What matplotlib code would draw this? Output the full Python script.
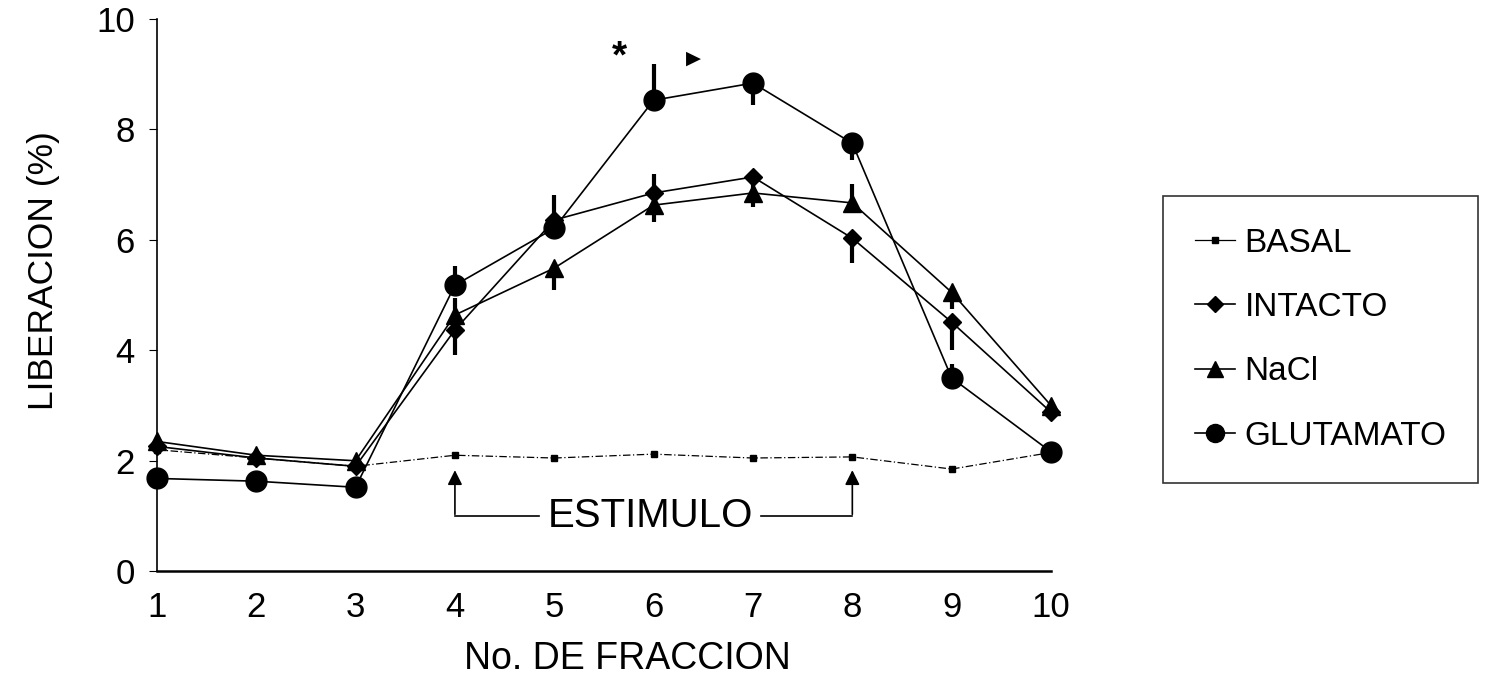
import numpy as np
import matplotlib
matplotlib.use("Agg")
import matplotlib.pyplot as plt
from matplotlib.lines import Line2D

plt.rcParams['font.family'] = ['Liberation Sans', 'DejaVu Sans']

# fracciones
fraccion = [1, 2, 3, 4, 5, 6, 7, 8, 9, 10]

# liberacion (%) por grupo
basal = [2.2, 2.05, 1.9, 2.1, 2.05, 2.12, 2.05, 2.07, 1.85, 2.15]
intacto = [2.26, 2.05, 1.9, 4.37, 6.36, 6.85, 7.14, 6.03, 4.51, 2.88]
nacl = [2.35, 2.1, 2.0, 4.64, 5.49, 6.63, 6.85, 6.67, 5.05, 3.0]
glutamato = [1.68, 1.63, 1.52, 5.18, 6.21, 8.53, 8.84, 7.75, 3.5, 2.16]

# error (abajo, arriba)
intacto_err_lo = [0, 0, 0, 0.45, 0, 0, 0.3, 0.45, 0.5, 0]
intacto_err_hi = [0, 0, 0, 0, 0, 0.35, 0, 0, 0, 0]
nacl_err_lo = [0, 0, 0, 0, 0.4, 0.3, 0.25, 0, 0.3, 0]
nacl_err_hi = [0, 0, 0, 0.3, 0, 0, 0, 0.35, 0, 0]
glut_err_lo = [0, 0, 0, 0, 0, 0, 0.4, 0.3, 0, 0]
glut_err_hi = [0, 0, 0, 0.35, 0.6, 0.65, 0, 0, 0.25, 0]

estimulo_inicio = 4
estimulo_fin = 8

fig = plt.figure(figsize=(14.94, 6.8), dpi=100)
ax = fig.add_axes([0.105, 0.16, 0.5985, 0.812])

lw = 1.2
ax.plot(fraccion, basal, color='black', lw=0.9, ls=(0, (6, 2, 1, 2)), marker='s',
        ms=4, clip_on=False, zorder=3)
ax.errorbar(fraccion, intacto, yerr=[intacto_err_lo, intacto_err_hi], color='black',
            lw=lw, marker='D', ms=9, elinewidth=3, capsize=0, clip_on=False, zorder=4)
ax.errorbar(fraccion, nacl, yerr=[nacl_err_lo, nacl_err_hi], color='black',
            lw=lw, marker='^', ms=13, elinewidth=3, capsize=0, clip_on=False, zorder=4)
ax.errorbar(fraccion, glutamato, yerr=[glut_err_lo, glut_err_hi], color='black',
            lw=lw, marker='o', ms=15, elinewidth=3, capsize=0, clip_on=False, zorder=4)

# ESTIMULO
for xs in (estimulo_inicio, estimulo_fin):
    ax.annotate('', xy=(xs, 1.88), xytext=(xs, 0.98),
                arrowprops=dict(arrowstyle='-|>', color='black', lw=1.2,
                                mutation_scale=22))
ax.plot([estimulo_inicio, 4.85], [1.0, 1.0], color='black', lw=1.2)
ax.plot([7.08, estimulo_fin], [1.0, 1.0], color='black', lw=1.2)
ax.text(5.97, 1.0, 'ESTIMULO', ha='center', va='center', fontsize=29)

ax.text(5.66, 9.3, '*', ha='center', va='center', fontsize=28, fontweight='bold')
ax.text(6.4, 9.3, '\u25B6', ha='center', va='center', fontsize=14,
        family=['DejaVu Sans'])

ax.set_xlim(1, 10)
ax.set_ylim(0, 10)
ax.set_xticks(fraccion)
ax.set_yticks([0, 2, 4, 6, 8, 10])
ax.tick_params(axis='x', length=0, pad=14, labelsize=25)
ax.tick_params(axis='y', length=6, width=0.8, pad=10, labelsize=25)
ax.spines['top'].set_visible(False)
ax.spines['right'].set_visible(False)
ax.spines['left'].set_linewidth(1.2)
ax.spines['bottom'].set_linewidth(1.8)

ax.set_xlabel('No. DE FRACCION', fontsize=27)
ax.set_ylabel('LIBERACION (%)', fontsize=25.5)
ax.xaxis.set_label_coords(0.526, -0.127)
ax.yaxis.set_label_coords(-0.108, 0.545)

handles = [
    Line2D([], [], color='black', lw=0.9, marker='s', ms=4),
    Line2D([], [], color='black', lw=1.2, marker='D', ms=8),
    Line2D([], [], color='black', lw=1.2, marker='^', ms=12),
    Line2D([], [], color='black', lw=1.2, marker='o', ms=13),
]
labels = ['BASAL', 'INTACTO', 'NaCl', 'GLUTAMATO']
leg = ax.legend(handles, labels, loc='upper left',
                bbox_to_anchor=(1163 / 1494, 1 - 196 / 680),
                bbox_transform=fig.transFigure, frameon=True, fancybox=False,
                fontsize=24, handlelength=1.2, handletextpad=0.3,
                labelspacing=1.0, borderpad=0.95, borderaxespad=0)
leg.get_frame().set_edgecolor('black')
leg.get_frame().set_linewidth(1.2)

fig.savefig('out.png', dpi=100)
